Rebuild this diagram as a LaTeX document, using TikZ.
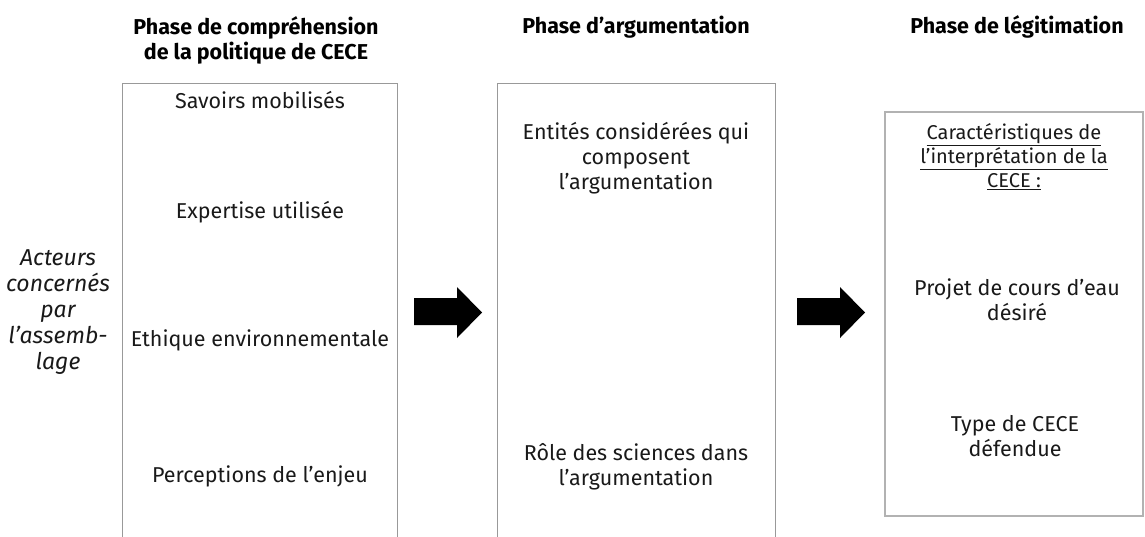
\documentclass[tikz,border=0pt]{standalone}
\usepackage{fontspec}
\setmainfont{Fira Sans}
\begin{document}
\begin{tikzpicture}[x=1pt,y=-1pt,font=\fontsize{21.5}{25}\selectfont,
  titre/.style={font=\fontsize{21.5}{25}\selectfont\bfseries,align=center},
  texte/.style={align=center,text=black!90},
  cadre/.style={draw=black!40,line width=1pt}]
\useasboundingbox (0,0) rectangle (1145,536);
% titres des phases
\node[titre] (comprehension) at (256,40) {Phase de compréhension\\de la politique de CECE};
\node[titre] (argumentation) at (636,27) {Phase d’argumentation};
\node[titre] (legitimation) at (1017,27) {Phase de légitimation};
% cadres
\draw[cadre] (122,540) |- (397,83) -- (397,540);
\draw[cadre] (497,540) |- (775,83) -- (775,540);
\draw[cadre,draw=black!30,line width=1.5pt] (885,112) rectangle (1143,516);
% acteurs
\node[texte,font=\fontsize{23}{26}\selectfont\itshape] (acteurs) at (58,312)
  {Acteurs\\concernés\\par\\l’assemb-\\lage};
% phase 1
\foreach \n/\y/\t in {savoirs/100/Savoirs mobilisés,expertise/212/Expertise utilisée,
  ethique/340/Ethique environnementale,perceptions/476/Perceptions de l’enjeu}
  \node[texte] (\n) at (260,\y) {\t};
% phase 2
\node[texte] (entites) at (636,158) {Entités considérées qui\\composent\\l’argumentation};
\node[texte] (sciences) at (636,467) {Rôle des sciences dans\\l’argumentation};
% phase 3
\node[texte,font=\fontsize{20}{24}\selectfont] (caract) at (1014,157)
  {\underline{Caractéristiques de}\\\underline{l’interprétation de la}\\\underline{CECE :}};
\node[texte] (projet) at (1017,300) {Projet de cours d’eau\\désiré};
\node[texte] (type) at (1015,436) {Type de CECE\\défendue};
% fleches
\foreach \x in {414,797}
  \fill[shift={(\x,0)}] (0,298) -- (43,298) -- (43,287) -- (68,312.5)
    -- (43,338) -- (43,325) -- (0,325) -- cycle;
\end{tikzpicture}
\end{document}
